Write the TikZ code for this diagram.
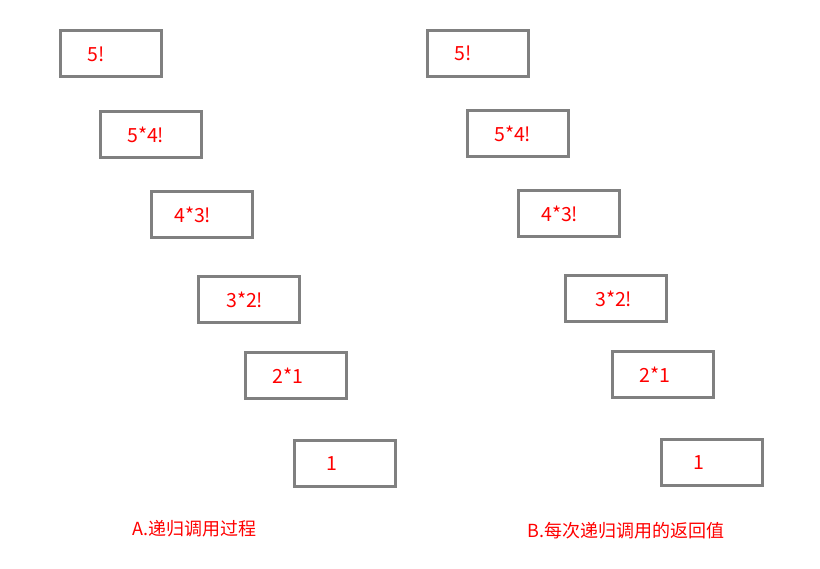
\documentclass[tikz,border=0pt]{standalone}
\usepackage{fontspec}
\setmainfont{Noto Sans CJK SC}
\begin{document}
\begin{tikzpicture}[x=1pt,y=-1pt,
  box/.style={draw=boxgray,line width=3pt,minimum width=101pt,minimum height=46pt,inner sep=0pt,fill=white},
  val/.style={text=red,font=\fontsize{19.5}{21}\selectfont,anchor=west,inner sep=0pt},
  captxt/.style={text=red,anchor=west,inner sep=0pt,font=\fontsize{18}{20}\selectfont}]
\definecolor{boxgray}{RGB}{128,128,128}
\useasboundingbox (0,0) rectangle (820,569);
% left column
\node[box] (a1) at (110.5,54) {};
\node[box] (a2) at (150.5,134.5) {};
\node[box] (a3) at (201.5,214.5) {};
\node[box] (a4) at (248.5,299.5) {};
\node[box] (a5) at (295.5,375.5) {};
\node[box] (a6) at (344.5,463.5) {};
\node[val] (ta1) at (87,54) {5!};
\node[val] (ta2) at (127,134.5) {5*4!};
\node[val] (ta3) at (174,214.5) {4*3!};
\node[val] (ta4) at (226,299.5) {3*2!};
\node[val] (ta5) at (272,375.5) {2*1};
\node[val] (ta6) at (326,463.5) {1};
% right column
\node[box] (b1) at (477.5,53.5) {};
\node[box] (b2) at (517.5,133.5) {};
\node[box] (b3) at (568.5,213.5) {};
\node[box] (b4) at (615.5,298.5) {};
\node[box] (b5) at (662.5,374.5) {};
\node[box] (b6) at (711.5,462.5) {};
\node[val] (tb1) at (454,53.5) {5!};
\node[val] (tb2) at (494,133.5) {5*4!};
\node[val] (tb3) at (541,213.5) {4*3!};
\node[val] (tb4) at (595,298.5) {3*2!};
\node[val] (tb5) at (639,374.5) {2*1};
\node[val] (tb6) at (693,462.5) {1};
% captions
\node[captxt] (capA) at (132,529) {A.递归调用过程};
\node[captxt] (capB) at (527,531) {B.每次递归调用的返回值};
\end{tikzpicture}
\end{document}
